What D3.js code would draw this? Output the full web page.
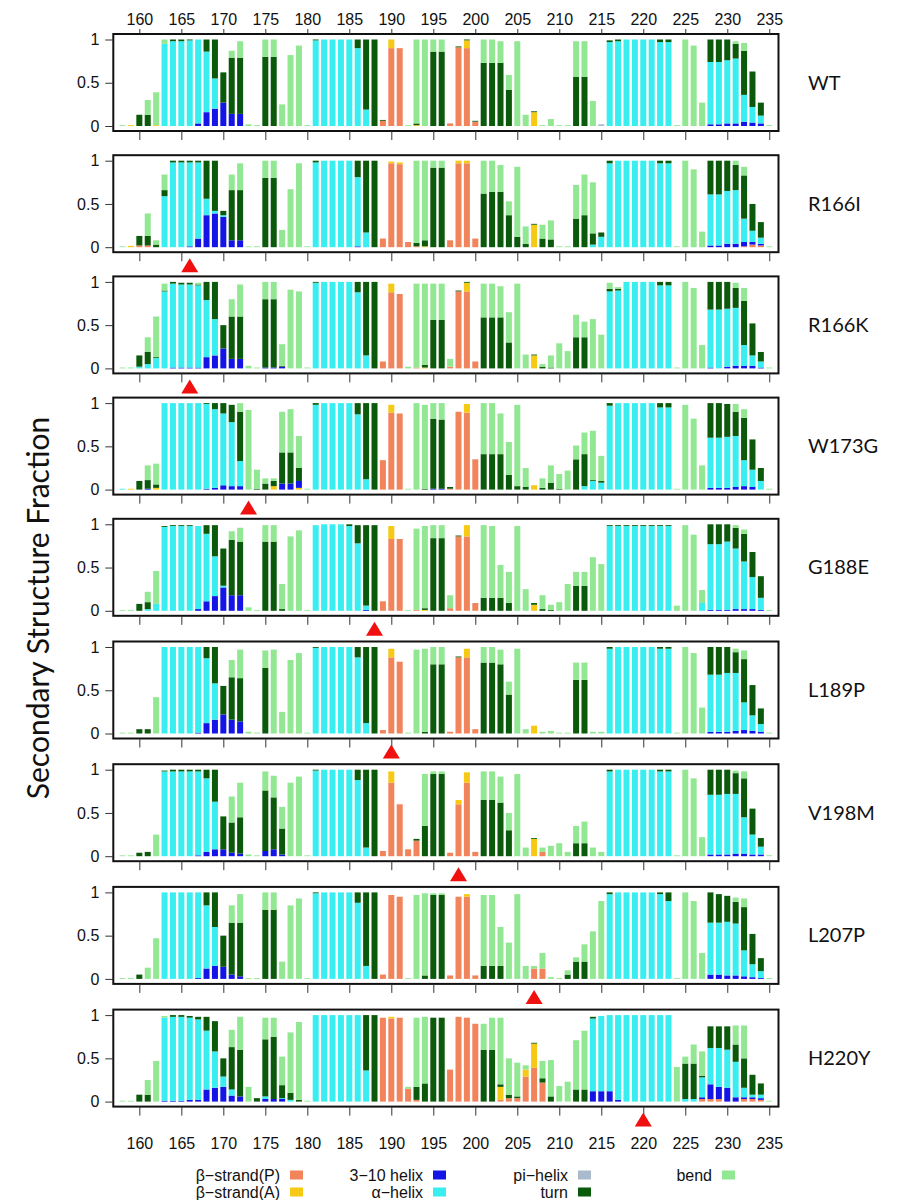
<!DOCTYPE html>
<html>
<head>
<meta charset="utf-8">
<script src="https://cdn.jsdelivr.net/npm/d3@7"></script>
<style>
  body { margin: 0; background: #fff; }
  text { font-family: "Liberation Sans", Arial, sans-serif; }
</style>
</head>
<body>
<div id="chart"></div>
<script>
var width = 920;
var height = 1200;

// residues on the x axis, tick labels
var residues = d3.range(158, 236);
var xTicks = d3.range(160, 236, 5);
var yTicks = [0, 0.5, 1];

// one panel per variant, red marker under the mutated residue
var panelNames = ["WT", "R166I", "R166K", "W173G", "G188E", "L189P", "V198M", "L207P", "H220Y"];
var mutSites = [null, 166, 166, 173, 188, 190, 198, 207, 220];

// stack order (bottom to top) = legend order
var classKeys = ["p", "y", "h", "a", "i", "t", "g"];
var classNames = ["β−strand(P)", "β−strand(A)", "3−10 helix", "α−helix", "pi−helix", "turn", "bend"];
var classColors = ["#f2845c", "#f6c915", "#1414e6", "#38eef0", "#a8bacb", "#0b5a0b", "#92e892"];

// fractions per residue 158..235, ten residues per line (158-167, 168-177, ...)
// p = beta-strand(P), y = beta-strand(A), h = 3-10 helix, a = alpha helix,
// i = pi helix, t = turn, g = bend
var WT = [
  {g:.01},{y:.01},{t:.13},{t:.13,g:.17},{y:.01,g:.38},{a:.95,g:.05},{a:.98,t:.02},{a:.98,t:.02},{a:.99,t:.01},{h:.03,a:.97},
  {h:.16,a:.7,t:.14},{h:.2,a:.35,t:.45},{h:.27,t:.35},{h:.14,t:.65,g:.08},{h:.14,t:.65,g:.19},{g:.02},{g:.01},{t:.8,g:.2},{t:.8,g:.2},{g:.25},
  {g:.82},{g:.93},{g:.01},{a:.99,t:.01},{a:1},{a:1},{a:1},{a:1},{a:.9,t:.1},{a:.19,t:.81},
  {t:1},{p:.06,t:.01},{p:.9,y:.1},{p:.9},{g:.01},{y:.01,t:.02,g:.97},{g:1},{t:.86,g:.14},{t:.86,g:.14},{p:.03},
  {p:.91,t:.01},{p:.9,y:.09,t:.01},{p:.05,t:.01},{t:.73,g:.27},{t:.73,g:.27},{t:.73,g:.25},{t:.42,g:.17},{g:.98},{g:.13},{y:.16,t:.01},
  {g:.01},{g:.08},{g:.01},{g:.01},{t:.57,g:.41},{t:.57,g:.41},{g:.29},{i:.02},{a:.97,t:.02},{a:.98,t:.02},
  {a:1},{a:1},{a:1},{a:1},{a:.97,t:.03},{a:.97,t:.03},{g:.01},{g:1},{g:.93},{g:.27},
  {h:.02,a:.72,t:.26},{h:.02,a:.72,t:.26},{h:.03,a:.73,t:.24},{h:.03,a:.75,t:.17,g:.03},{h:.05,a:.31,t:.51,g:.09},{h:.04,a:.18,t:.41},{h:.03,a:.09,t:.15},{g:.01}
];
var R166I = [
  {g:.01},{y:.015},{p:.02,t:.11},{p:.02,t:.11,g:.26},{t:.03,g:.05},{a:.59,t:.07,g:.18},{a:.98,t:.02},{a:.98,t:.02},{h:.01,a:.97,t:.02},{h:.1,a:.88,t:.02},
  {h:.37,a:.19,t:.44},{h:.39,a:.03,t:.58},{h:.35,a:.02,t:.05},{h:.08,t:.58,g:.18},{h:.08,t:.58,g:.31},{g:.01},{g:.01},{t:.8,g:.2},{t:.8,g:.2},{g:.2},
  {g:.67},{g:.97},{g:.01},{a:.98,t:.02},{a:1},{a:1},{a:1},{a:1},{h:.01,a:.8,t:.19},{a:.17,t:.83},
  {t:1},{p:.1},{p:.97,y:.02},{p:.96,y:.02},{p:.06},{p:.01,t:.04,g:.95},{y:.01,t:.07,g:.92},{t:.92,g:.08},{t:.92,g:.08},{p:.08},
  {p:.97,y:.03},{p:.97,y:.03},{p:.1},{t:.62,g:.38},{t:.64,g:.36},{t:.64,g:.31},{t:.37,g:.16},{t:.12,g:.81},{t:.04,g:.2},{y:.26,t:.01},
  {t:.1,g:.16},{t:.09,g:.22},{g:.01},{g:.01},{t:.33,g:.39},{t:.37,g:.47},{a:.03,t:.13,g:.59},{a:.12,t:.05},{a:.97,t:.03},{a:1},
  {a:1},{a:1},{a:1},{a:1},{a:.97,t:.03},{a:.97,t:.03},{g:.01},{g:1},{g:.9},{g:.18},
  {h:.02,a:.59,t:.39},{h:.02,a:.59,t:.39},{h:.04,a:.61,t:.35},{h:.04,a:.62,t:.29,g:.05},{p:.01,h:.05,a:.27,t:.5,g:.1},{p:.03,h:.03,a:.13,t:.31},{p:.02,h:.02,a:.07,t:.18},{g:.01}
];
var R166K = [
  {g:.01},{g:.01},{a:.02,t:.13},{a:.05,t:.14,g:.17},{a:.12,t:.01,g:.47},{a:.89,t:.01,g:.08},{h:.01,a:.97,t:.02},{h:.01,a:.96,t:.02},{h:.01,a:.96,t:.02},{h:.01,a:.95,t:.01,g:.02},
  {h:.13,a:.66,t:.21},{h:.15,a:.42,t:.43},{h:.23,t:.27},{h:.11,t:.49,g:.2},{h:.11,t:.49,g:.37},{g:.03},{g:.01},{h:.01,t:.79,g:.2},{h:.01,t:.79,g:.2},{h:.02,t:.01,g:.25},
  {g:.91},{g:.89},{g:.01},{a:.99,t:.01},{a:1},{a:1},{a:1},{a:1},{a:.88,t:.12},{a:.15,t:.85},
  {t:1},{p:.08},{p:.88,y:.1},{p:.86},{g:.02},{p:.01,g:.97},{y:.01,t:.03,g:.94},{t:.56,g:.42},{t:.56,g:.42},{p:.02,g:.09},
  {p:.89,t:.01},{p:.89,y:.1,t:.01},{p:.08},{t:.59,g:.39},{t:.59,g:.39},{t:.59,g:.36},{t:.3,g:.35},{g:.98},{g:.16},{y:.15,t:.01},
  {t:.02,g:.03},{t:.01,g:.14},{g:.29},{g:.2},{t:.36,g:.26},{t:.36,g:.18},{g:.57},{g:.39},{a:.89,t:.03,g:.07},{a:.9,t:.02,g:.02},
  {a:1},{a:1},{a:1},{a:1},{a:.96,t:.04},{a:.96,t:.04},{g:.01},{g:1},{g:.93},{g:.27},
  {h:.01,a:.67,t:.32},{a:.68,t:.32},{h:.02,a:.67,t:.31},{h:.03,a:.67,t:.23,g:.06},{h:.03,a:.24,t:.51,g:.15},{h:.03,a:.12,t:.37},{h:.01,a:.07,t:.11},{g:.01}
];
var W173G = [
  {a:.01},{y:.01},{t:.1},{h:.01,t:.1,g:.17},{y:.02,t:.04,g:.24},{a:1},{a:1},{a:1},{a:1},{a:1},
  {h:.01,a:.98,t:.01},{h:.02,a:.91,t:.07},{h:.05,a:.83,t:.12},{h:.04,a:.74,t:.2},{h:.04,a:.29,t:.57,g:.1},{g:.92},{t:.01,g:.22},{t:.07,g:.06},{y:.04,t:.06,g:.03},{h:.07,t:.36,g:.47},
  {h:.07,t:.36,g:.5},{y:.02,h:.08,t:.15,g:.37},{g:.01},{a:.98,t:.02},{a:1},{a:1},{a:1},{a:1},{a:.87,t:.13},{a:.12,t:.88},
  {t:1},{p:.34},{p:.89,y:.09},{p:.88},{g:.01},{g:1},{t:.01,g:.97},{h:.01,t:.81,g:.18},{h:.01,t:.8,g:.19},{p:.01,t:.02},
  {p:.9},{p:.89,y:.1},{p:.35},{t:.41,g:.59},{t:.41,g:.59},{t:.41,g:.47},{t:.17,g:.38},{t:.04,g:.94},{t:.03,g:.22},{y:.05},
  {t:.02,g:.11},{t:.08,g:.2},{t:.01,g:.17},{g:.22},{t:.35,g:.16},{a:.04,t:.37,g:.25},{a:.1,t:.01,g:.57},{a:.08,t:.02,g:.29},{a:.97,t:.03},{a:1},
  {a:1},{a:1},{a:1},{a:1},{a:.95,t:.05},{a:.95,t:.05},{g:.01},{g:.98},{g:.82},{g:.28},
  {h:.02,a:.58,t:.4},{h:.02,a:.58,t:.4},{h:.02,a:.59,t:.38},{h:.03,a:.59,t:.28,g:.09},{h:.04,a:.3,t:.49,g:.1},{h:.03,a:.2,t:.35},{a:.1,t:.15},{g:.01}
];
var G188E = [
  {g:.01},{g:.01},{t:.08},{a:.02,t:.08,g:.12},{a:.08,g:.38},{a:.97,t:.01},{a:.98,t:.01},{a:.98,t:.01},{a:.98,t:.01},{h:.02,a:.96},
  {h:.11,a:.78,t:.1},{h:.17,a:.46,t:.36},{h:.27,a:.02,t:.43},{h:.18,t:.64,g:.1},{h:.18,t:.62,g:.16},{g:.04},{g:.01},{t:.8,g:.19},{t:.8,g:.19},{t:.02,g:.29},
  {g:.86},{g:.93},{g:.01},{a:.99},{a:1},{a:1},{a:1},{a:.98,t:.02},{a:.78,t:.21},{h:.01,a:.05,t:.93},
  {t:.99},{p:.11},{p:.83,y:.15},{p:.83},{g:.01},{p:.01,g:.94},{y:.01,t:.02,g:.95},{t:.84,g:.15},{t:.84,g:.15},{p:.03,g:.15},
  {p:.86,t:.01},{p:.86,y:.13},{p:.09},{t:.15,g:.84},{t:.15,g:.83},{t:.15,g:.38},{t:.09,g:.36},{g:.98},{g:.25},{y:.07,t:.02},
  {t:.02,g:.16},{t:.01,g:.06},{g:.1},{g:.31},{t:.29,g:.16},{t:.29,g:.16},{g:.62},{g:.54},{a:.98,t:.01},{a:.98,t:.01},
  {a:.98,t:.01},{a:.98,t:.01},{a:.98,t:.01},{a:.98,t:.01},{a:.98,t:.01},{a:.98,t:.01},{g:.06},{g:.99},{g:.88},{a:.09,g:.15},
  {h:.01,a:.76,t:.23},{h:.01,a:.76,t:.23},{h:.01,a:.79,t:.2},{h:.02,a:.7,t:.24,g:.03},{h:.02,a:.55,t:.32,g:.05},{h:.02,a:.37,t:.29},{h:.01,a:.14,t:.25},{g:.01}
];
var L189P = [
  {g:.01},{g:.01},{t:.05},{t:.05},{g:.42},{a:1},{a:1},{a:1},{a:1},{h:.01,a:.99},
  {h:.12,a:.75,t:.13},{h:.16,a:.42,t:.42},{h:.22,t:.33},{h:.16,t:.49,g:.2},{h:.14,t:.5,g:.33},{g:.02},{g:.01},{t:.76,g:.2},{g:.97},{g:.25},
  {g:.85},{g:.93},{g:.01},{a:.99,t:.01},{a:1},{a:1},{a:1},{a:1},{a:.88,t:.12},{a:.12,t:.88},
  {t:1},{p:.04},{p:.88,y:.1},{p:.83},{g:.01},{g:.97},{t:.02,g:.96},{t:.8,g:.2},{t:.8,g:.2},{p:.02},
  {p:.88,t:.01},{p:.88,y:.1},{p:.05},{t:.82,g:.18},{t:.82,g:.18},{t:.8,g:.17},{t:.45,g:.15},{g:.98},{g:.05},{y:.09},
  {g:.02},{g:.03},{g:.01},{g:.01},{t:.62,g:.2},{t:.62,g:.2},{g:.02},{g:.02},{a:.98,t:.02},{a:1},
  {a:1},{a:1},{a:1},{a:1},{a:.98,t:.02},{a:.98,t:.02},{g:.01},{g:1},{g:.93},{g:.3},
  {h:.02,a:.66,t:.32},{h:.02,a:.66,t:.32},{h:.02,a:.68,t:.3},{h:.03,a:.67,t:.24,g:.04},{h:.04,a:.32,t:.5,g:.1},{h:.03,a:.18,t:.35},{h:.02,a:.09,t:.18},{g:.01}
];
var V198M = [
  {g:.01},{g:.01},{t:.04},{t:.05},{g:.25},{a:.98,t:.01},{a:.98,t:.02},{a:.98,t:.02},{a:.98,t:.02},{h:.01,a:.97,t:.02},
  {h:.05,a:.85,t:.1},{h:.08,a:.55,t:.37},{h:.08,t:.38},{h:.04,t:.35,g:.3},{h:.03,t:.42,g:.4},{g:.02},{g:.01},{h:.06,t:.7,g:.22},{h:.08,t:.6,g:.25},{h:.02,t:.3,g:.25},
  {g:.85},{g:.92},{g:.01},{a:.99,t:.01},{a:1},{a:1},{a:1},{a:1},{a:.88,t:.12},{a:.1,t:.9},
  {t:1},{p:.06},{p:.85,y:.13},{p:.6},{p:.08},{p:.18,t:.02},{t:.35,g:.6},{t:.95,g:.03},{t:.95,g:.03},{p:.04},
  {p:.6,y:.05},{p:.85,y:.12},{p:.05},{t:.65,g:.33},{t:.65,g:.33},{t:.62,g:.3},{t:.3,g:.2},{g:.95},{g:.1},{y:.2,t:.01},
  {p:.05,g:.05},{g:.12},{g:.15},{g:.05},{t:.15,g:.2},{t:.15,g:.25},{g:.1},{g:.05},{a:.98,t:.02},{a:1},
  {a:1},{a:1},{a:1},{a:1},{a:.98,t:.02},{a:.98,t:.02},{g:.01},{g:1},{g:.9},{g:.22},
  {h:.02,a:.69,t:.29},{h:.02,a:.69,t:.29},{h:.02,a:.7,t:.28},{h:.03,a:.69,t:.24,g:.03},{h:.03,a:.42,t:.45,g:.08},{h:.02,a:.23,t:.3},{h:.02,a:.09,t:.1},{g:.01}
];
var L207P = [
  {g:.01},{g:.01},{t:.05},{g:.13},{g:.47},{a:1},{a:1},{a:1},{a:1},{h:.01,a:.99},
  {h:.12,a:.73,t:.15},{h:.15,a:.45,t:.4},{h:.14,t:.36},{h:.05,t:.6,g:.2},{h:.03,t:.62,g:.33},{g:.01},{g:.01},{t:.8,g:.2},{t:.8,g:.2},{g:.2},
  {g:.85},{g:.93},{g:.01},{a:.99,t:.01},{a:1},{a:1},{a:1},{a:1},{a:.88,t:.12},{a:.15,t:.85},
  {t:1},{p:.05},{p:.97},{p:.95},{g:.01},{g:.97},{t:.04,g:.95},{t:.97,g:.02},{t:.97,g:.02},{p:.04},
  {p:.95},{p:.95,y:.03},{p:.04},{t:.15,g:.82},{t:.15,g:.82},{t:.15,g:.45},{g:.42},{g:.98},{g:.15},{p:.12,g:.03},
  {p:.12,g:.18},{g:.02},{g:.01},{t:.05,g:.05},{t:.2,g:.05},{t:.2,g:.2},{g:.55},{g:.9},{a:.98,t:.02},{a:1},
  {a:1},{a:1},{a:1},{a:1},{a:.98,t:.02},{a:.9,t:.1},{g:.01},{g:1},{g:.9},{g:.3},
  {h:.05,a:.6,t:.35},{h:.05,a:.6,t:.33},{h:.04,a:.62,t:.3},{h:.04,a:.6,t:.25,g:.05},{h:.03,a:.3,t:.5,g:.1},{h:.02,a:.15,t:.35},{h:.01,a:.08,t:.15},{g:.01}
];
var H220Y = [
  {g:.01},{g:.01},{t:.08},{t:.08,g:.17},{g:.47},{h:.01,a:.96,g:.02},{h:.01,a:.97,t:.02},{h:.01,a:.97,t:.02},{h:.02,a:.95,t:.02},{h:.02,a:.93,t:.03},
  {h:.14,a:.68,t:.16},{h:.16,a:.42,t:.35},{h:.17,a:.12,t:.21},{h:.07,a:.07,t:.49,g:.2},{h:.06,t:.54,g:.38},{g:.17},{t:.04},{h:.03,a:.03,t:.66,g:.25},{h:.03,t:.72,g:.22},{h:.03,a:.01,t:.15,g:.33},
  {a:.02,t:.08,g:.7},{t:.02,g:.9},{g:.01},{a:1},{a:1},{a:1},{a:1},{a:1},{a:1},{a:.36,t:.64},
  {t:1},{p:.97},{p:.96,y:.02},{p:.97},{p:.15,g:.02},{p:.02,t:.15,g:.8},{t:.21,g:.77},{t:.97},{t:.97},{p:.37},
  {p:.98},{p:.97},{p:.9},{t:.6,g:.3},{t:.6,g:.37},{p:.02,y:.15,t:.03,g:.77},{p:.04,t:.04,g:.42},{p:.04,t:.02,g:.39},{p:.29,y:.08,g:.05},{p:.39,y:.28,t:.01},
  {p:.22,t:.05,g:.2},{t:.06,g:.42},{g:.18},{g:.23},{t:.14,g:.57},{t:.14,g:.68},{h:.12,a:.84,t:.02},{h:.12,a:.87},{h:.12,a:.88},{h:.02,a:.98},
  {a:1},{a:1},{a:1},{a:1},{a:1},{a:1},{g:.4},{a:.03,t:.41,g:.08},{a:.03,t:.41,g:.22},{p:.03,h:.02,a:.23,t:.02,g:.28},
  {p:.03,h:.17,a:.42,t:.25},{p:.03,h:.14,a:.45,t:.25},{h:.16,a:.44,t:.27},{h:.05,a:.41,t:.2,g:.22},{p:.03,h:.02,a:.11,t:.34,g:.38},{p:.03,h:.02,a:.03,t:.23},{p:.02,h:.02,a:.04,t:.13},{g:.01}
];

var panelData = [WT, R166I, R166K, W173G, G188E, L189P, V198M, L207P, H220Y];

var svg = d3.select("#chart").append("svg")
  .attr("width", width)
  .attr("height", height);

var x = d3.scaleLinear().domain([156.9, 236.1]).range([113.3, 778.5]);
var barW = 6;
var boxH = 97;
// the lower panels sit a little further apart than the upper ones
function panelTop(i) { return i <= 4 ? 34 + i * 121.2 : 518.8 + (i - 4) * 122.7; }

var color = d3.scaleOrdinal().domain(classKeys).range(classColors);
var stack = d3.stack().keys(classKeys).value((d, k) => d[k] || 0);

panelData.forEach(function(values, i) {
  var top = panelTop(i);
  var g = svg.append("g").attr("transform", "translate(0," + top + ")");
  var y = d3.scaleLinear().domain([0, 1]).range([boxH - 5, 5.5]);

  var rows = values.map((v, j) => Object.assign({res: residues[j]}, v));
  var series = stack(rows);

  g.selectAll("g.layer")
    .data(series)
    .enter().append("g")
    .attr("class", "layer")
    .attr("fill", d => color(d.key))
    .selectAll("rect")
    .data(d => d.filter(s => s[1] - s[0] > 0))
    .enter().append("rect")
    .attr("x", d => x(d.data.res) - barW / 2)
    .attr("width", barW)
    .attr("y", d => y(d[1]))
    .attr("height", d => Math.max(0.8, y(d[0]) - y(d[1])));

  // frame
  g.append("rect")
    .attr("x", x.range()[0]).attr("y", 0)
    .attr("width", x.range()[1] - x.range()[0]).attr("height", boxH)
    .attr("fill", "none").attr("stroke", "#111").attr("stroke-width", 2);

  // bottom ticks (labels only on the last panel)
  var last = i === panelData.length - 1;
  var bottom = g.append("g")
    .attr("transform", "translate(0," + boxH + ")")
    .call(d3.axisBottom(x).tickValues(xTicks).tickSize(9).tickPadding(22)
      .tickFormat(last ? d3.format("d") : ""));
  bottom.select(".domain").remove();

  var topAxis = null;
  if (i === 0) {
    topAxis = g.append("g")
      .call(d3.axisTop(x).tickValues(xTicks).tickSize(5).tickPadding(4).tickFormat(d3.format("d")));
    topAxis.select(".domain").remove();
  }

  var left = g.append("g")
    .attr("transform", "translate(" + x.range()[0] + ",0)")
    .call(d3.axisLeft(y).tickValues(yTicks).tickSize(8).tickPadding(6)
      .tickFormat(d => d === 0.5 ? "0.5" : d3.format("d")(d)));
  left.select(".domain").remove();

  [bottom, left, topAxis].forEach(function(a) {
    if (!a) return;
    a.selectAll("text").attr("font-size", 16).attr("fill", "#111")
      .style("font-family", "'Liberation Sans', Arial, sans-serif");
    a.selectAll("line").attr("stroke", "#333");
  });

  // variant name
  g.append("text")
    .attr("x", 808).attr("y", boxH / 2 + 7)
    .attr("font-size", 20)
    .style("font-family", "Lato, 'Open Sans', sans-serif")
    .attr("fill", "#111")
    .text(panelNames[i]);

  // mutation marker
  if (mutSites[i] != null) {
    var cx = x(mutSites[i]);
    var ay = boxH + 6;
    g.append("path")
      .attr("d", "M" + cx + "," + ay + "L" + (cx + 8.5) + "," + (ay + 14) + "L" + (cx - 8.5) + "," + (ay + 14) + "Z")
      .attr("fill", "#f01010");
  }
});

// y axis title
svg.append("text")
  .attr("transform", "translate(49,608) rotate(-90)")
  .attr("text-anchor", "middle")
  .attr("font-size", 30)
  .style("font-family", "Lato, 'Open Sans', sans-serif")
  .attr("fill", "#111")
  .text("Secondary Structure Fraction");

// legend, filled column by column
var legendX = [280, 423, 568, 712];
var legendY = [1175, 1192];
var legend = svg.append("g");
classKeys.forEach(function(k, j) {
  var col = Math.floor(j / 2), row = j % 2;
  var lg = legend.append("g")
    .attr("transform", "translate(" + legendX[col] + "," + legendY[row] + ")");
  lg.append("text")
    .attr("text-anchor", "end").attr("y", 5.5)
    .attr("font-size", 16).attr("fill", "#111")
    .text(classNames[j]);
  lg.append("rect")
    .attr("x", 10).attr("y", -4.5)
    .attr("width", 13).attr("height", 9)
    .attr("fill", classColors[j]);
});
</script>
</body>
</html>
